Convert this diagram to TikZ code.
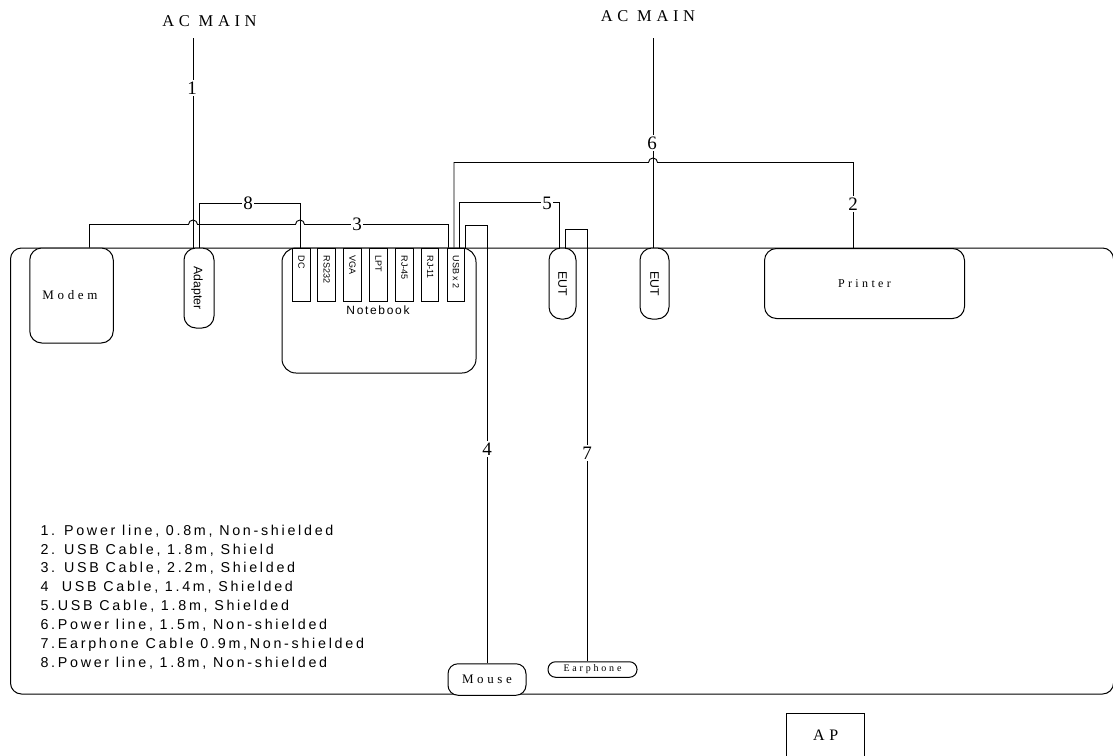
\documentclass[tikz,border=0pt]{standalone}
\usepackage{fontspec}
\setmainfont{Liberation Serif}
\newfontfamily\wideserif[LetterSpace=28]{Liberation Serif}
\newfontfamily\widesans[LetterSpace=14]{Liberation Sans}
\newfontfamily\legendsans[LetterSpace=19]{Liberation Sans}
\newfontfamily\plainsans{Liberation Sans}
\usetikzlibrary{calc,positioning}
\newcommand{\porttext}[1]{\rotatebox{-90}{\makebox[38pt][l]{#1}}}
\begin{document}
\begin{tikzpicture}[x=1pt,y=-1pt,line width=1pt,
device/.style={draw,fill=white,rounded corners=12pt,inner sep=0pt,font=\wideserif\fontsize{12}{14}\selectfont},
upright/.style={draw,fill=white,rounded corners=12pt,inner sep=0pt,font=\plainsans\fontsize{12.3}{14}\selectfont},
port/.style={draw,fill=white,inner sep=0pt,minimum width=17.5pt,minimum height=53pt,font=\plainsans\fontsize{9}{10}\selectfont},
cable/.style={draw,line width=0.9pt},
num/.style={fill=white,inner sep=1.5pt,font=\fontsize{19}{21}\selectfont},
mains/.style={inner sep=0pt,font=\wideserif\fontsize{16.5}{18}\selectfont},
]
\useasboundingbox (0,0) rectangle (1113,755);

% table
\node[draw,rounded corners=11pt,inner sep=0pt,minimum width=1103pt,minimum height=446pt] (desk) at (562,471) {};

% devices on the table
\node[device,minimum width=83.5pt,minimum height=95pt,font=\wideserif\fontsize{13}{15}\selectfont] (modem) at (71.5,295.5) {\hspace*{-3pt}Modem};
\node[upright,minimum width=30pt,minimum height=80pt] (adapter) at (199,288) {\hspace*{-4pt}\rotatebox{-90}{Adapter}};
\node[device,rounded corners=14pt,minimum width=194pt,minimum height=125pt] (notebook) at (379,310.5) {};
\node[upright,minimum width=27pt,minimum height=71pt] (eutleft) at (562.5,283.5) {\rotatebox{-90}{EUT}};
\node[upright,minimum width=29pt,minimum height=71pt] (eutright) at (654.5,283.5) {\rotatebox{-90}{EUT}};
\node[device,minimum width=200pt,minimum height=70pt] (printer) at (864.5,283.5) {Printer};
\node[device,rounded corners=10pt,minimum width=78pt,minimum height=31.5pt,font=\wideserif\fontsize{13}{15}\selectfont] (mouse) at (487,679.5) {Mouse};
\node[device,rounded corners=7.5pt,minimum width=89pt,minimum height=15.5pt,font=\wideserif\fontsize{10}{12}\selectfont] (earphone) at (592.5,669.5) {Earphone};
\node[draw,inner sep=0pt,minimum width=78pt,minimum height=44pt,font=\wideserif\fontsize{16}{18}\selectfont] (ap) at (825.7,735) {AP};

% ports of the notebook
\node[port] (dc) at (301.5,274.5) {\porttext{DC}};
\node[port] (rs) at (326.7,274.5) {\porttext{RS232}};
\node[port] (vga) at (352.5,274.5) {\porttext{VGA}};
\node[port] (lpt) at (378.5,274.5) {\porttext{LPT}};
\node[port] (rjf) at (404.5,274.5) {\porttext{RJ-45}};
\node[port] (rje) at (430.2,274.5) {\porttext{RJ-11}};
\node[port] (usb) at (456,274.5) {\porttext{USB x 2}};
\node[font=\widesans\fontsize{12}{14}\selectfont,inner sep=0pt] (nbname) at (378,310) {Notebook};

% mains
\node[mains] (acleft) at (209.5,21) {AC MAIN};
\node[mains] (acright) at (648,16) {AC MAIN};
\coordinate (feedleft) at (193,38);
\coordinate (feedright) at (653,38);

% bends
\coordinate (modemup) at (89.5,224.5);
\coordinate (usbthree) at (448.5,224.5);
\coordinate (adapterup) at (199,203.5);
\coordinate (dcup) at (300,203.5);
\coordinate (usbtwo) at (454,162.5);
\coordinate (printerup) at (853.5,162.5);
\coordinate (usbfive) at (459.7,202.5);
\coordinate (eutfive) at (559,202.5);
\coordinate (usbfour) at (465,225.5);
\coordinate (mouseup) at (487,225.5);
\coordinate (eutseven) at (565,229.5);
\coordinate (earup) at (587,229.5);

% cables
\draw[cable] (feedleft) -- (feedleft |- adapter.north);
\draw[cable] (feedright) -- (feedright |- eutright.north);
\draw[cable] (adapterup |- adapter.north) -- (adapterup) -- (dcup) -- (dcup |- dc.north);
\draw[cable] (modemup |- modem.north) -- (modemup) -- ($(modemup -| feedleft)+(-4.5,0)$) arc (180:360:4.5)
  -- ($(modemup -| dcup)+(-4.5,0)$) arc (180:360:4.5) -- (usbthree) -- (usbthree |- usb.north);
\draw[cable] (usbtwo |- usb.north) -- (usbtwo) -- ($(usbtwo -| feedright)+(-4.5,0)$) arc (180:360:4.5) -- (printerup) -- (printerup |- printer.north);
\draw[cable] (usbfive |- usb.north) -- (usbfive) -- (eutfive) -- (eutfive |- eutleft.north);
\draw[cable] (usbfour |- usb.north) -- (usbfour) -- (mouseup) -- (mouseup |- mouse.north);
\draw[cable] (eutseven |- eutleft.north) -- (eutseven) -- (earup) -- (earup |- earphone.north);

% cable numbers
\node[num] (numone) at (192,88) {1};
\node[num] (numtwo) at (853,204) {2};
\node[num] (numthree) at (357,224.5) {3};
\node[num] (numfour) at (487,449) {4};
\node[num] (numfive) at (547,203) {5};
\node[num] (numsix) at (652,143) {6};
\node[num] (numseven) at (587,453) {7};
\node[num] (numeight) at (248,203) {8};

% legend
\node[anchor=west,align=left,inner sep=0pt,font=\legendsans\fontsize{14.3}{18.9}\selectfont] (legend) at (40,597) {1. Power line, 0.8m, Non-shielded\\
2. USB Cable, 1.8m, Shield\\
3. USB Cable, 2.2m, Shielded\\
4\ \ USB Cable, 1.4m, Shielded\\
5.USB Cable, 1.8m, Shielded\\
6.Power line, 1.5m, Non-shielded\\
7.Earphone Cable 0.9m,Non-shielded\\
8.Power line, 1.8m, Non-shielded};
\end{tikzpicture}
\end{document}
